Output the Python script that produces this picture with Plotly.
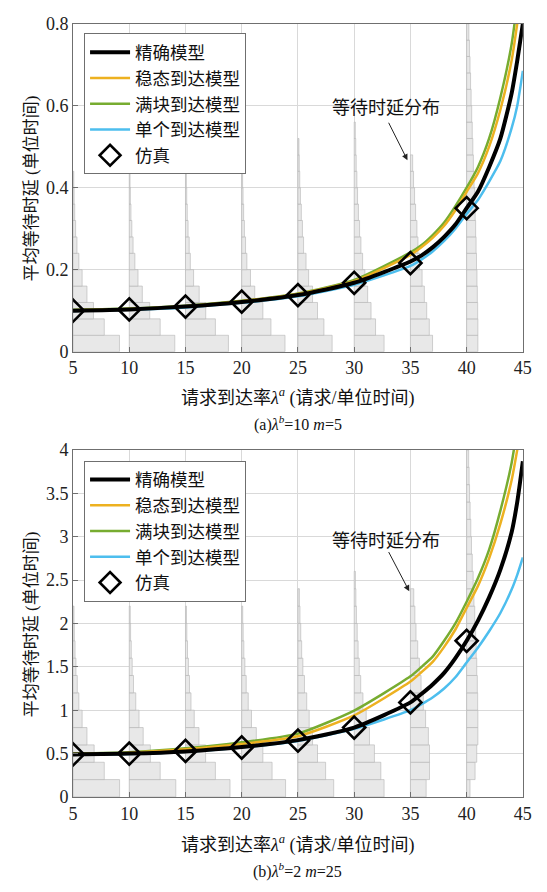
import plotly.graph_objects as go

# ---------------- data ----------------
x_curve = [5, 10, 15, 20, 25, 30, 35, 36, 37, 38, 39, 40, 41, 42, 43, 44, 44.5, 45]

top_exact = [0.100, 0.103, 0.110, 0.121, 0.138, 0.168, 0.220, 0.235, 0.255, 0.28, 0.31, 0.35, 0.39, 0.45, 0.52, 0.63, 0.71, 0.80]
top_steady = [0.101, 0.104, 0.111, 0.123, 0.141, 0.172, 0.236, 0.255, 0.278, 0.307, 0.345, 0.39, 0.435, 0.50, 0.59, 0.71, 0.80, 0.90]
top_block = [0.102, 0.105, 0.112, 0.124, 0.142, 0.175, 0.242, 0.26, 0.285, 0.315, 0.355, 0.40, 0.45, 0.52, 0.62, 0.75, 0.85, 0.95]
top_single = [0.099, 0.102, 0.108, 0.119, 0.135, 0.163, 0.209, 0.225, 0.245, 0.27, 0.30, 0.336, 0.37, 0.415, 0.465, 0.545, 0.60, 0.685]

bot_exact = [0.49, 0.50, 0.525, 0.575, 0.655, 0.80, 1.09, 1.19, 1.30, 1.43, 1.6, 1.80, 2.03, 2.3, 2.62, 3.05, 3.4, 3.87]
bot_steady = [0.495, 0.51, 0.55, 0.61, 0.70, 0.94, 1.33, 1.44, 1.56, 1.73, 1.93, 2.18, 2.43, 2.75, 3.15, 3.65, 4.0, 4.4]
bot_block = [0.50, 0.515, 0.56, 0.63, 0.73, 0.995, 1.39, 1.5, 1.62, 1.8, 2.0, 2.25, 2.52, 2.85, 3.3, 3.85, 4.25, 4.7]
bot_single = [0.485, 0.495, 0.52, 0.57, 0.645, 0.785, 1.0, 1.07, 1.15, 1.25, 1.38, 1.55, 1.72, 1.91, 2.12, 2.39, 2.56, 2.76]

x_sim = [5, 10, 15, 20, 25, 30, 35, 40]
top_sim = [0.100, 0.103, 0.110, 0.122, 0.138, 0.168, 0.216, 0.350]
bot_sim = [0.49, 0.50, 0.53, 0.57, 0.65, 0.80, 1.09, 1.80]

# histogram bar lengths (in x units), bins from 0 upward
top_bin = 0.04
top_h05 = [4.13, 2.78, 1.82, 1.24, 0.81, 0.52, 0.35, 0.23, 0.15, 0.10, 0.07]
top_h10 = [4.05, 2.75, 1.82, 1.16, 0.78, 0.50, 0.34, 0.23, 0.15, 0.10, 0.07]
top_h15 = [3.82, 2.66, 1.80, 1.22, 0.72, 0.43, 0.33, 0.23, 0.16, 0.11, 0.08]
top_h20 = [3.85, 2.60, 1.88, 1.16, 0.78, 0.46, 0.34, 0.24, 0.17, 0.12, 0.08]
top_h25 = [3.04, 2.31, 1.74, 1.30, 0.95, 0.72, 0.50, 0.40, 0.30, 0.22, 0.16, 0.12, 0.09]
top_h30 = [2.66, 1.90, 1.50, 1.20, 0.95, 0.75, 0.60, 0.48, 0.38, 0.30, 0.24, 0.18, 0.14, 0.10]
top_h35 = [1.97, 1.68, 1.45, 1.24, 1.04, 0.81, 0.67, 0.58, 0.46, 0.37, 0.28, 0.20]
top_h40 = [1.0, 1.0, 0.98, 0.95, 0.92, 0.88, 0.84, 0.80, 0.76, 0.72, 0.66, 0.60, 0.55, 0.50, 0.45, 0.40, 0.35, 0.30, 0.25, 0.20]

bot_bin = 0.2
bot_h05 = [4.14, 2.78, 1.88, 1.24, 0.81, 0.52, 0.38, 0.26, 0.18, 0.12, 0.09]
bot_h10 = [4.14, 2.75, 1.88, 1.24, 0.87, 0.58, 0.38, 0.26, 0.18, 0.12, 0.09]
bot_h15 = [3.96, 2.66, 1.79, 1.20, 0.78, 0.49, 0.36, 0.26, 0.18, 0.12, 0.09]
bot_h20 = [3.90, 2.70, 1.88, 1.30, 0.87, 0.58, 0.40, 0.28, 0.19, 0.13, 0.09]
bot_h25 = [3.18, 2.46, 1.74, 1.30, 1.00, 0.78, 0.58, 0.44, 0.33, 0.25, 0.18, 0.13]
bot_h30 = [2.66, 2.37, 1.80, 1.36, 1.07, 0.78, 0.58, 0.45, 0.35, 0.27, 0.20, 0.15, 0.11]
bot_h35 = [1.40, 1.70, 1.70, 1.60, 1.35, 1.15, 0.95, 0.80, 0.65, 0.50, 0.40, 0.30]
bot_h40 = [0.30, 0.75, 0.90, 1.00, 1.00, 0.98, 0.95, 0.90, 0.85, 0.80, 0.72, 0.65, 0.58, 0.50, 0.43, 0.37, 0.31, 0.26, 0.22, 0.18]

hist_pos = [5, 10, 15, 20, 25, 30, 35, 40]
top_hists = [top_h05, top_h10, top_h15, top_h20, top_h25, top_h30, top_h35, top_h40]
bot_hists = [bot_h05, bot_h10, bot_h15, bot_h20, bot_h25, bot_h30, bot_h35, bot_h40]

names = ["精确模型", "稳态到达模型", "满块到达模型", "单个到达模型", "仿真"]
colors = ["#000000", "#EDB120", "#77AC30", "#4DBEEE"]

x_ticks = [5, 10, 15, 20, 25, 30, 35, 40, 45]
top_yticks = [0, 0.2, 0.4, 0.6, 0.8]
top_yticklabels = ["0", "0.2", "0.4", "0.6", "0.8"]
bot_yticks = [0, 0.5, 1, 1.5, 2, 2.5, 3, 3.5, 4]
bot_yticklabels = ["0", "0.5", "1", "1.5", "2", "2.5", "3", "3.5", "4"]

FONT = "'Liberation Serif', 'Times New Roman', 'Noto Sans CJK SC', serif"

fig = go.Figure()


def add_panel(xa, ya, legend, hists, binw, curves, sim):
    # histograms
    for pos, lens in zip(hist_pos, hists):
        yc = [binw * (i + 0.5) for i in range(len(lens))]
        fig.add_trace(go.Bar(
            x=lens, y=yc, base=[pos] * len(lens), width=binw, orientation="h",
            marker=dict(color="#e8e8e8", line=dict(color="#b3b3b3", width=0.6)),
            showlegend=False, xaxis=xa, yaxis=ya, hoverinfo="skip"))
    # curves: draw colored first, black on top
    for k in [3, 2, 1, 0]:
        fig.add_trace(go.Scatter(
            x=x_curve, y=curves[k], mode="lines", name=names[k],
            line=dict(color=colors[k], width=4 if k == 0 else 2.5, shape="spline", smoothing=0.6),
            xaxis=xa, yaxis=ya, legend=legend, legendrank=k + 1))
    fig.add_trace(go.Scatter(
        x=x_sim, y=sim, mode="markers", name=names[4],
        marker=dict(symbol="diamond-open", size=17, color="black", line=dict(width=2.6, color="black")),
        xaxis=xa, yaxis=ya, legend=legend, legendrank=5))


add_panel("x", "y", "legend", top_hists, top_bin, [top_exact, top_steady, top_block, top_single], top_sim)
add_panel("x2", "y2", "legend2", bot_hists, bot_bin, [bot_exact, bot_steady, bot_block, bot_single], bot_sim)

W, H = 547, 892
xd = [70.7 / W, 531.5 / W]
top_dom = [1 - 349.5 / H, 1 - 14 / H]
bot_dom = [1 - 805 / H, 1 - 450 / H]

axis_common = dict(showline=True, mirror=True, linecolor="#6f6f6f", linewidth=1,
                   ticks="inside", ticklen=5, tickcolor="#6f6f6f",
                   showgrid=True, gridcolor="#d9d9d9", gridwidth=1, zeroline=False,
                   tickfont=dict(family=FONT, size=18, color="#222"))

leg_common = dict(xanchor="left", yanchor="top", bgcolor="white",
                  bordercolor="#6f6f6f", borderwidth=1, font=dict(family=FONT, size=17.5, color="#111"),
                  tracegroupgap=0, itemwidth=40)

fig.update_layout(
    width=W, height=H, margin=dict(l=0, r=0, t=0, b=0),
    plot_bgcolor="white", paper_bgcolor="white", barmode="overlay",
    font=dict(family=FONT, color="#222"),
    xaxis=dict(domain=xd, range=[5, 45], tickvals=x_ticks, anchor="y", **axis_common),
    yaxis=dict(domain=top_dom, range=[0, 0.8], tickvals=top_yticks, ticktext=top_yticklabels, anchor="x", **axis_common),
    xaxis2=dict(domain=xd, range=[5, 45], tickvals=x_ticks, anchor="y2", **axis_common),
    yaxis2=dict(domain=bot_dom, range=[0, 4], tickvals=bot_yticks, ticktext=bot_yticklabels, anchor="x2", **axis_common),
    legend=dict(x=82 / W, y=1 - 24 / H, **leg_common),
    legend2=dict(x=82 / W, y=1 - 461 / H, **leg_common),
)

ann = []
xt = "请求到达率<i>λ</i><sup><i>a</i></sup> (请求/单位时间)"
yt = "平均等待时延 (单位时间)"
for ypix_title, ypix_cap, cap in [(396, 423, "(a)<i>λ</i><sup><i>b</i></sup>=10 <i>m</i>=5"),
                                  (853, 880, "(b)<i>λ</i><sup><i>b</i></sup>=2 <i>m</i>=25")]:
    ann.append(dict(x=(xd[0] + xd[1]) / 2, y=1 - ypix_title / H, xref="paper", yref="paper",
                    xanchor="center", yanchor="middle",
                    text=xt, showarrow=False, font=dict(family=FONT, size=18, color="#111")))
    ann.append(dict(x=(xd[0] + xd[1]) / 2, y=1 - ypix_cap / H, xref="paper", yref="paper",
                    xanchor="center", yanchor="middle",
                    text=cap, showarrow=False, font=dict(family=FONT, size=16, color="#111")))
for yc in [1 - 182 / H, 1 - 628 / H]:
    ann.append(dict(x=29 / W, y=yc, xref="paper", yref="paper", text=yt, textangle=-90,
                    xanchor="center", yanchor="middle",
                    showarrow=False, font=dict(family=FONT, size=17, color="#111")))

# distribution labels and arrows
ann.append(dict(x=32.8, y=0.594, xref="x", yref="y", text="等待时延分布", showarrow=False,
                font=dict(family=FONT, size=18, color="#111")))
ann.append(dict(x=34.74, y=0.467, ax=33.0, ay=0.562, xref="x", yref="y", axref="x", ayref="y",
                text="", showarrow=True, arrowhead=2, arrowsize=1.2, arrowwidth=1, arrowcolor="#222"))
ann.append(dict(x=32.8, y=2.95, xref="x2", yref="y2", text="等待时延分布", showarrow=False,
                font=dict(family=FONT, size=18, color="#111")))
ann.append(dict(x=34.9, y=2.37, ax=33.0, ay=2.84, xref="x2", yref="y2", axref="x2", ayref="y2",
                text="", showarrow=True, arrowhead=2, arrowsize=1.2, arrowwidth=1, arrowcolor="#222"))

fig.update_layout(annotations=ann)
fig.write_html("out.html")
